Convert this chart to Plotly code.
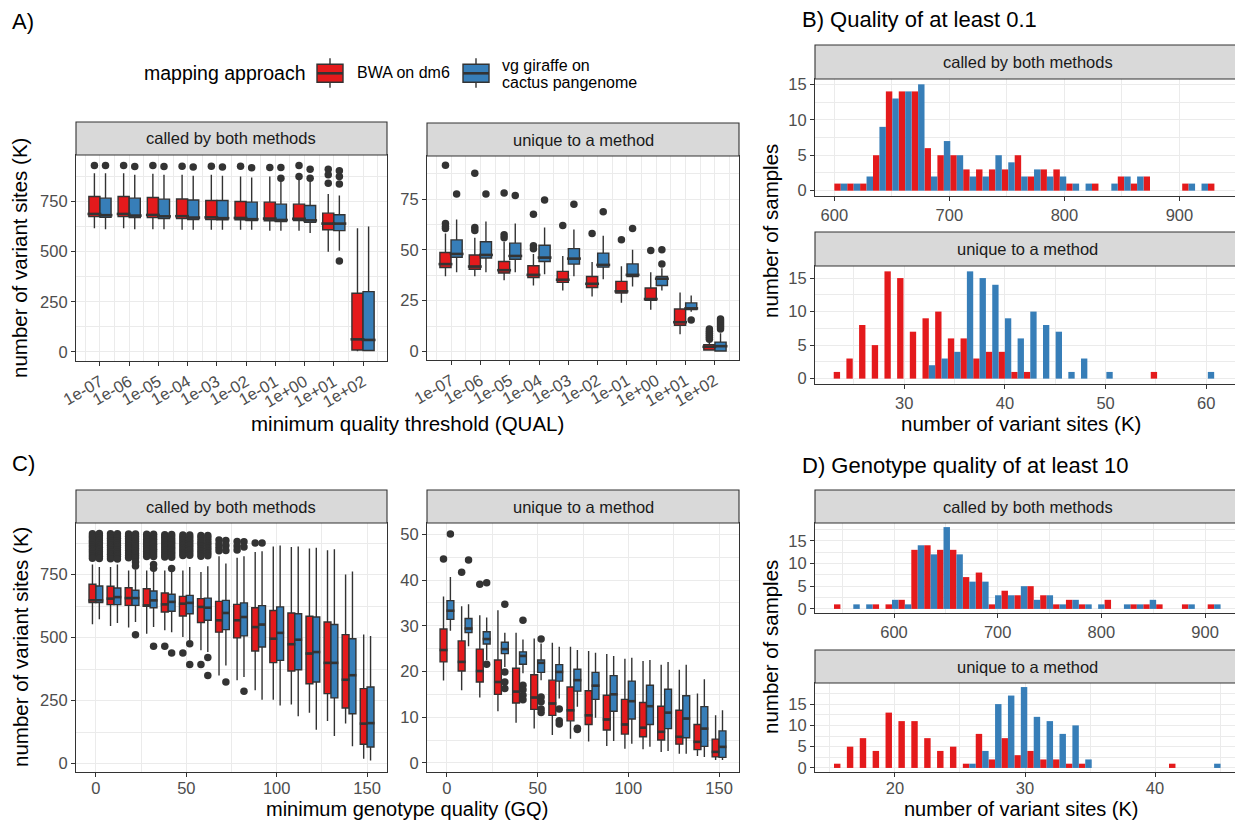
import numpy as np
import plotly.graph_objects as go

W, H = 1235, 822
RED, BLUE, DARK = "#E41A1C", "#377EB8", "#333333"
FONT = "Liberation Sans, Arial, Helvetica, sans-serif"
BWA_NAME = "BWA on dm6"
VG_NAME = "vg giraffe on cactus pangenome"

# ------------------------------------------------------------------ data
qual_labels = ["1e-07", "1e-06", "1e-05", "1e-04", "1e-03",
               "1e-02", "1e-01", "1e+00", "1e+01", "1e+02"]
gq_values = [0, 10, 20, 30, 40, 50, 60, 70, 80, 90, 100, 110, 120, 130, 140, 150]

# A) variant sites (K) called by both methods, by minimum QUAL
qa_both_bwa_lo = [617, 617, 612, 609, 609, 609, 604, 604, 500, 4]
qa_both_bwa_q1 = [675, 675, 670, 665, 660, 659, 654, 655, 609, 10]
qa_both_bwa_md = [688, 688, 683, 677, 671, 668, 665, 664, 640, 63]
qa_both_bwa_q3 = [775, 775, 770, 763, 755, 750, 747, 737, 692, 293]
qa_both_bwa_hi = [891, 891, 888, 883, 883, 875, 875, 866, 787, 617]
qa_both_bwa_out = [[930], [930], [930], [926], [926], [926], [920], [930, 875],
                   [911, 883, 841], []]

qa_both_vg_lo = [612, 612, 612, 609, 609, 609, 604, 593, 505, 3]
qa_both_vg_q1 = [672, 670, 665, 660, 659, 655, 650, 647, 605, 7]
qa_both_vg_md = [682, 680, 676, 670, 667, 662, 658, 656, 640, 60]
qa_both_vg_q3 = [767, 767, 762, 758, 755, 747, 737, 730, 684, 301]
qa_both_vg_hi = [891, 883, 883, 878, 878, 870, 866, 875, 780, 625]
qa_both_vg_out = [[930], [925], [925], [922], [922], [919], [920, 866], [911, 866],
                  [903, 875, 837, 454], []]

# A) variant sites (K) unique to a method, by minimum QUAL
qa_uniq_bwa_lo = [37, 37, 35, 32.5, 30, 27, 24, 20.5, 8.5, 0.3]
qa_uniq_bwa_q1 = [41.3, 40.5, 38.6, 36.4, 34, 31.5, 28.8, 25.2, 12.9, 0.7]
qa_uniq_bwa_md = [43, 41.8, 40, 37.7, 35.3, 33.3, 29.6, 25.8, 14.4, 2.3]
qa_uniq_bwa_q3 = [48.7, 47.5, 44.3, 42.2, 39.4, 36.9, 34.5, 31.2, 20.9, 3.3]
qa_uniq_bwa_hi = [58, 56, 54, 48, 47, 44, 42, 39, 29, 5]
qa_uniq_bwa_out = [[91.7, 63, 61.5, 60.5], [87.7, 61, 59.5], [78, 57.5, 56],
                   [67.5, 52, 50.5], [62], [58], [55], [49.7], [],
                   [6.0, 7.0, 8.0, 9.0, 10.0, 11.0]]

qa_uniq_vg_lo = [39, 39, 39, 38, 37, 35.5, 32, 30, 19.5, 0.1]
qa_uniq_vg_q1 = [46.4, 46, 45.4, 44.3, 43, 41.5, 36.9, 32.5, 20.6, 0.2]
qa_uniq_vg_md = [48, 47.5, 47, 46.2, 45.7, 42.6, 37.7, 35.8, 21.2, 2.6]
qa_uniq_vg_q3 = [54.9, 54, 53.3, 52.3, 50.6, 48.4, 43.1, 36.9, 23.9, 4.6]
qa_uniq_vg_hi = [65, 64, 63, 61, 60, 57, 50, 41, 27.5, 9]
qa_uniq_vg_out = [[77.5], [77.5], [76.7], [74.5], [72.5], [68.8], [60.5], [50, 43],
                  [15.5], [11, 12, 13, 14, 15, 16]]

# B) histogram, QUAL >= 0.1 (30 bins)
hb_both_start, hb_both_bw = 600.0, 11.2
hb_both_bwa = [1, 1, 1, 5, 14, 14, 14, 6, 5, 5, 3, 3, 3, 3, 5,
               2, 3, 3, 1, 0, 1, 0, 2, 1, 2, 0, 0, 1, 0, 1]
hb_both_vg = [1, 1, 2, 9, 13, 14, 15, 2, 7, 5, 2, 2, 5, 4, 2,
              3, 2, 2, 1, 1, 0, 1, 2, 2, 0, 0, 0, 1, 1, 0]
hb_uniq_start, hb_uniq_bw = 22.99, 1.26
hb_uniq_bwa = [1, 3, 8, 5, 16, 15, 7, 9, 10, 6, 6, 3, 4, 4, 1,
               1, 0, 0, 0, 0, 0, 0, 0, 0, 0, 1, 0, 0, 0, 0]
hb_uniq_vg = [0, 0, 0, 0, 0, 0, 0, 2, 3, 4, 16, 15, 14, 9, 6,
              10, 8, 7, 1, 3, 0, 1, 0, 0, 0, 0, 0, 0, 0, 1]

# C) variant sites (K) called by both methods, by minimum GQ
gc_both_bwa_lo = [553, 546, 540, 516, 529, 503, 450, 350, 331, 291, 254, 235, 202, 169, 159, 20]
gc_both_bwa_q1 = [639, 631, 628, 624, 602, 586, 560, 522, 499, 447, 401, 368, 317, 278, 221, 77]
gc_both_bwa_md = [648, 655, 657, 628, 632, 635, 622, 569, 569, 542, 496, 474, 437, 400, 333, 159]
gc_both_bwa_q3 = [712, 704, 698, 694, 677, 664, 655, 644, 632, 619, 608, 598, 585, 562, 512, 298]
gc_both_bwa_hi = [790, 780, 767, 767, 767, 767, 761, 823, 817, 840, 862, 860, 854, 847, 751, 513]
gc_both_bwa_out = [
    [912, 903, 895, 886, 878, 868, 860, 851, 842, 833, 824, 815],
    [912, 903, 894, 885, 876, 867, 858, 849, 840, 831, 822, 813],
    [911, 902, 893, 884, 874, 865, 856, 846, 836, 826, 817],
    [910, 900, 890, 880, 871, 862, 852, 842, 832, 822],
    [908, 898, 888, 878, 868, 858, 848, 838, 828, 820, 466],
    [907, 896, 886, 876, 866, 856, 846, 836, 826, 439],
    [905, 895, 884, 874, 864, 853, 843, 833, 823, 394],
    [888, 872, 858, 845],
    [882, 864, 848],
    [876],
    [], [], [], [], [], []]

gc_both_vg_lo = [573, 558, 562, 542, 522, 489, 443, 390, 344, 254, 231, 188, 135, 110, 69, 13]
gc_both_vg_q1 = [639, 631, 628, 619, 605, 595, 569, 532, 507, 463, 410, 373, 324, 261, 198, 66]
gc_both_vg_md = [648, 661, 657, 648, 642, 638, 619, 598, 582, 552, 519, 492, 443, 400, 351, 161]
gc_both_vg_q3 = [705, 697, 688, 685, 672, 668, 657, 648, 638, 627, 622, 595, 582, 552, 496, 304]
gc_both_vg_hi = [780, 790, 770, 765, 767, 780, 783, 794, 823, 843, 866, 862, 857, 851, 763, 507]
gc_both_vg_out = [
    [913, 904, 895, 886, 877, 868, 859, 850, 841, 832, 823, 814],
    [912, 903, 894, 885, 876, 867, 858, 849, 840, 831, 822, 812],
    [911, 901, 892, 883, 873, 864, 854, 845, 835, 826, 816, 800, 784, 512],
    [910, 900, 891, 881, 871, 861, 851, 842, 832, 822, 790, 775, 466],
    [909, 899, 889, 879, 869, 859, 849, 839, 829, 819, 774, 439],
    [907, 897, 887, 877, 867, 857, 847, 837, 827, 476, 394],
    [905, 895, 885, 875, 865, 855, 845, 835, 825, 421, 350],
    [886, 866, 846, 324],
    [881, 860, 287],
    [876],
    [], [], [], [], [], []]

# C) variant sites (K) unique to a method, by minimum GQ
gc_uniq_bwa_lo = [18, 15.9, 14.3, 11.3, 8.8, 7.5, 6.1, 5.3, 4.7, 3.7, 3.1, 3.0, 2.4, 2.0, 1.5, 0.6]
gc_uniq_bwa_q1 = [22.1, 20.1, 17.7, 15.0, 13.1, 11.7, 10.4, 9.2, 8.4, 7.2, 6.3, 5.7, 5.0, 4.1, 2.9, 1.3]
gc_uniq_bwa_md = [24.7, 22.1, 20.1, 17.7, 15.6, 14.3, 13.0, 11.5, 10.4, 9.5, 8.4, 7.7, 6.8, 5.7, 4.6, 2.4]
gc_uniq_bwa_q3 = [29.3, 26.7, 24.9, 22.5, 20.7, 19.3, 18.1, 16.6, 15.8, 14.8, 13.9, 13.2, 12.4, 11.5, 8.4, 5.2]
gc_uniq_bwa_hi = [36.4, 34.3, 32.3, 33.4, 28.5, 27.2, 26.3, 25.4, 24.5, 23.8, 22.8, 22.3, 21.5, 20.4, 15.2, 10.4]
gc_uniq_bwa_out = [[44.6], [41.7], [39.1], [], [], [], [], [], [], [], [], [], [], [], [], []]

gc_uniq_vg_lo = [28.9, 25.5, 22.5, 21.0, 19.6, 18.1, 14.1, 12.3, 9.9, 4.8, 4.2, 3.5, 2.6, 2.0, 1.3, 0.6]
gc_uniq_vg_q1 = [31.4, 28.5, 26.0, 23.9, 21.6, 19.8, 17.9, 15.7, 13.9, 11.3, 9.6, 8.4, 7.5, 5.5, 3.6, 1.2]
gc_uniq_vg_md = [33.3, 29.4, 27.1, 24.9, 23.4, 21.9, 19.9, 18.1, 16.9, 15.0, 13.5, 12.4, 11.0, 9.7, 7.5, 3.5]
gc_uniq_vg_q3 = [35.5, 31.6, 28.7, 26.4, 24.3, 22.5, 21.5, 20.5, 19.8, 19.1, 17.9, 17.0, 16.1, 14.7, 12.3, 7.0]
gc_uniq_vg_hi = [40.7, 34.7, 31.8, 28.5, 27.0, 26.1, 25.4, 24.7, 24.1, 23.4, 23.0, 22.5, 22.1, 21.5, 18.3, 11.5]
gc_uniq_vg_out = [[50.1], [44.4], [39.4, 21.6], [34.7, 19.9, 17.7, 16.3],
                  [31.2, 17.0, 16.0, 14.8, 13.8], [27.1, 14.4, 13.4, 11.8, 11.0],
                  [11.8, 9.2, 8.5], [7.6, 7.3], [], [], [], [], [], [], [], []]

# D) histogram, GQ >= 10 (30 bins)
hd_both_start, hd_both_bw = 542.1, 12.43
hd_both_bwa = [1, 0, 0, 1, 1, 2, 13, 14, 13, 13, 7, 8, 1, 4, 3,
               5, 3, 1, 2, 1, 0, 2, 0, 1, 1, 1, 0, 1, 0, 1]
hd_both_vg = [0, 1, 1, 0, 2, 1, 14, 12, 18, 12, 6, 6, 3, 3, 5,
              2, 3, 1, 2, 1, 1, 0, 1, 1, 2, 0, 0, 1, 0, 1]
hd_uniq_start, hd_uniq_bw = 15.31, 0.991
hd_uniq_bwa = [1, 5, 7, 4, 13, 11, 11, 7, 4, 5, 1, 8, 2, 7, 3,
               4, 2, 2, 1, 1, 0, 0, 0, 0, 0, 0, 1, 0, 0, 0]
hd_uniq_vg = [0, 0, 0, 0, 0, 0, 0, 0, 0, 0, 1, 4, 15, 17, 19,
              12, 11, 8, 10, 2, 0, 0, 0, 0, 0, 0, 0, 0, 0, 1]

# ------------------------------------------------------------------ geometry (pixels)
BOXGAP = 0.24
# plot-area rectangles: (left, right, top, bottom) and axis ranges
PANELS = {
    "":  dict(box=(76, 387, 155, 361), xr=[-0.82, 9.82], yr=[-45, 982]),
    "2": dict(box=(427, 739, 156, 360), xr=[-0.82, 9.82], yr=[-4.2, 96.2]),
    "3": dict(box=(815, 1235, 79, 196), xr=[583.2, 948.3], yr=[-0.75, 15.75]),
    "4": dict(box=(815, 1235, 266, 384), xr=[21.13, 62.86], yr=[-0.8, 16.8]),
    "5": dict(box=(76, 387, 523, 772), xr=[-11, 161], yr=[-33, 955]),
    "6": dict(box=(427, 739, 523, 772), xr=[-11, 161], yr=[-2.0, 52.5]),
    "7": dict(box=(815, 1235, 523, 613), xr=[523.8, 928.9], yr=[-0.9, 18.9]),
    "8": dict(box=(815, 1235, 683, 772), xr=[13.85, 46.15], yr=[-0.95, 19.95]),
}
BOTTOM_ROW = ("5", "6", "8")


def px(xp):
    return xp / W


def py(yp):
    return 1 - yp / H


def unit_px(ax):
    p = PANELS[ax]
    return (p["box"][1] - p["box"][0]) / (p["xr"][1] - p["xr"][0])


fig = go.Figure()


def add_boxes(ax, positions, spacing, stats, outliers, color, name, group, side):
    lo, q1, md, q3, hi = stats
    fig.add_trace(go.Box(
        x=positions, q1=q1, median=md, q3=q3, lowerfence=lo, upperfence=hi,
        xaxis="x" + ax, yaxis="y" + ax, name=name, legendgroup=name,
        showlegend=False, fillcolor=color, line=dict(color=DARK, width=1.4),
        whiskerwidth=0, boxpoints=False, offsetgroup=name, alignmentgroup=group,
        hoverinfo="skip"))
    shift = side * spacing * (1 - BOXGAP) / 4
    # thicker median bar, as in a ggplot boxplot
    box_w = spacing * (1 - BOXGAP) / 2 * unit_px(ax)
    fig.add_trace(go.Scatter(
        x=[p + shift for p in positions], y=md, mode="markers",
        xaxis="x" + ax, yaxis="y" + ax,
        marker=dict(symbol="line-ew", size=box_w - 1.2, line=dict(color=DARK, width=2.6)),
        showlegend=False, hoverinfo="skip"))
    ox, oy = [], []
    for p, pts in zip(positions, outliers):
        ox += [p + shift] * len(pts)
        oy += list(pts)
    fig.add_trace(go.Scatter(
        x=ox, y=oy, mode="markers", xaxis="x" + ax, yaxis="y" + ax,
        marker=dict(color=DARK, size=7.5, line=dict(width=0)),
        showlegend=False, hoverinfo="skip"))


def add_hist(ax, start, bw, counts, color, side):
    centers = start + bw * (np.arange(len(counts)) + 0.5)
    fig.add_trace(go.Bar(
        x=centers, y=counts, width=bw / 2, offset=-bw / 2 if side < 0 else 0,
        marker=dict(color=color, line=dict(width=0)),
        xaxis="x" + ax, yaxis="y" + ax, showlegend=False, hoverinfo="skip"))


qpos = list(range(len(qual_labels)))

# A) QUAL boxplots
add_boxes("", qpos, 1, (qa_both_bwa_lo, qa_both_bwa_q1, qa_both_bwa_md, qa_both_bwa_q3, qa_both_bwa_hi),
          qa_both_bwa_out, RED, BWA_NAME, "a1", -1)
add_boxes("", qpos, 1, (qa_both_vg_lo, qa_both_vg_q1, qa_both_vg_md, qa_both_vg_q3, qa_both_vg_hi),
          qa_both_vg_out, BLUE, VG_NAME, "a1", 1)
add_boxes("2", qpos, 1, (qa_uniq_bwa_lo, qa_uniq_bwa_q1, qa_uniq_bwa_md, qa_uniq_bwa_q3, qa_uniq_bwa_hi),
          qa_uniq_bwa_out, RED, BWA_NAME, "a2", -1)
add_boxes("2", qpos, 1, (qa_uniq_vg_lo, qa_uniq_vg_q1, qa_uniq_vg_md, qa_uniq_vg_q3, qa_uniq_vg_hi),
          qa_uniq_vg_out, BLUE, VG_NAME, "a2", 1)

# B) QUAL histograms
add_hist("3", hb_both_start, hb_both_bw, hb_both_bwa, RED, -1)
add_hist("3", hb_both_start, hb_both_bw, hb_both_vg, BLUE, 1)
add_hist("4", hb_uniq_start, hb_uniq_bw, hb_uniq_bwa, RED, -1)
add_hist("4", hb_uniq_start, hb_uniq_bw, hb_uniq_vg, BLUE, 1)

# C) GQ boxplots
add_boxes("5", gq_values, 10, (gc_both_bwa_lo, gc_both_bwa_q1, gc_both_bwa_md, gc_both_bwa_q3, gc_both_bwa_hi),
          gc_both_bwa_out, RED, BWA_NAME, "c1", -1)
add_boxes("5", gq_values, 10, (gc_both_vg_lo, gc_both_vg_q1, gc_both_vg_md, gc_both_vg_q3, gc_both_vg_hi),
          gc_both_vg_out, BLUE, VG_NAME, "c1", 1)
add_boxes("6", gq_values, 10, (gc_uniq_bwa_lo, gc_uniq_bwa_q1, gc_uniq_bwa_md, gc_uniq_bwa_q3, gc_uniq_bwa_hi),
          gc_uniq_bwa_out, RED, BWA_NAME, "c2", -1)
add_boxes("6", gq_values, 10, (gc_uniq_vg_lo, gc_uniq_vg_q1, gc_uniq_vg_md, gc_uniq_vg_q3, gc_uniq_vg_hi),
          gc_uniq_vg_out, BLUE, VG_NAME, "c2", 1)

# D) GQ histograms
add_hist("7", hd_both_start, hd_both_bw, hd_both_bwa, RED, -1)
add_hist("7", hd_both_start, hd_both_bw, hd_both_vg, BLUE, 1)
add_hist("8", hd_uniq_start, hd_uniq_bw, hd_uniq_bwa, RED, -1)
add_hist("8", hd_uniq_start, hd_uniq_bw, hd_uniq_vg, BLUE, 1)

# ------------------------------------------------------------------ axes
GRID = "#EBEBEB"
TICK_MAJOR = {"": 250, "2": 25, "3": 100, "4": 10, "5": 50, "6": 50, "7": 100, "8": 10}
Y_MAJOR = {"": 250, "2": 25, "3": 5, "4": 5, "5": 250, "6": 10, "7": 5, "8": 5}


def axis(domain, rng, anchor, dtick=None, **kw):
    d = dict(domain=domain, range=rng, anchor=anchor, showline=True, linecolor=DARK,
             linewidth=1.1, mirror=True, ticks="outside", ticklen=4, tickcolor=DARK,
             tickwidth=1.1, tickfont=dict(size=16.5, color="#4D4D4D", family=FONT),
             showgrid=True, gridcolor=GRID, gridwidth=1.1, zeroline=False,
             automargin=False, fixedrange=True)
    if dtick is not None:
        d.update(tick0=0, dtick=dtick,
                 minor=dict(showgrid=True, gridcolor=GRID, gridwidth=0.55, ticks="",
                            tick0=0, dtick=dtick / 2))
    d.update(kw)
    return d


layout_axes = {}
for ax, p in PANELS.items():
    l, r, t, b = p["box"]
    xdom = [px(l), min(px(r), 1.0)]
    ydom = [py(b), py(t)]
    if ax in ("", "2"):
        xa = axis(xdom, p["xr"], "y" + ax, tickmode="array", tickvals=qpos,
                  ticktext=qual_labels, tickangle=-30,
                  minor=dict(showgrid=True, gridcolor=GRID, gridwidth=0.55, ticks="",
                             tickmode="linear", tick0=0.5, dtick=1))
    else:
        xa = axis(xdom, p["xr"], "y" + ax, TICK_MAJOR[ax])
    if ax in BOTTOM_ROW:
        # bottom-row tick labels sit a little closer to the panel
        xa["ticklabelstandoff"] = -3
    ya = axis(ydom, p["yr"], "x" + ax, Y_MAJOR[ax])
    layout_axes["xaxis" + ax] = xa
    layout_axes["yaxis" + ax] = ya

# ------------------------------------------------------------------ strips, legend & text
strips = [
    (76, 387, 122, 155, "called by both methods"),
    (427, 739, 123, 156, "unique to a method"),
    (815, 1245, 45, 79, "called by both methods"),
    (815, 1245, 232, 266, "unique to a method"),
    (76, 387, 490, 523, "called by both methods"),
    (427, 739, 490, 523, "unique to a method"),
    (815, 1245, 490, 523, "called by both methods"),
    (815, 1245, 650, 683, "unique to a method"),
]
shapes, annotations = [], []


def text(t, x, y, size, anchor="center", angle=0, color="black"):
    annotations.append(dict(text=t, x=px(x), y=py(y), xref="paper", yref="paper",
                            showarrow=False, xanchor=anchor, yanchor="middle",
                            textangle=angle, font=dict(size=size, color=color, family=FONT)))


for x0, x1, y0, y1, label in strips:
    shapes.append(dict(type="rect", xref="paper", yref="paper", x0=px(x0), x1=px(x1),
                       y0=py(y1), y1=py(y0), fillcolor="#D9D9D9",
                       line=dict(color=DARK, width=1.1), layer="above"))
    cx = (x0 + x1) / 2 if x1 < 1240 else (815 + 1240) / 2
    text(label, cx, (y0 + y1) / 2, 16.5, color="#1A1A1A")


def legend_key(x0, x1, color):
    xc = (x0 + x1) / 2
    line = dict(color=DARK, width=1.4)
    shapes.append(dict(type="line", xref="paper", yref="paper", x0=px(xc), x1=px(xc),
                       y0=py(58.3), y1=py(87.7), line=line))
    shapes.append(dict(type="rect", xref="paper", yref="paper", x0=px(x0), x1=px(x1),
                       y0=py(82.3), y1=py(64.3), fillcolor=color, line=line))
    shapes.append(dict(type="line", xref="paper", yref="paper", x0=px(x0), x1=px(x1),
                       y0=py(73.3), y1=py(73.3), line=dict(color=DARK, width=2.6)))


text("mapping approach", 142, 73, 19.5, "left")
legend_key(317, 343, RED)
text("BWA on dm6", 355, 73, 16, "left")
legend_key(463, 489, BLUE)
text("vg giraffe on", 500, 65.5, 16, "left")
text("cactus pangenome", 500, 82.5, 16, "left")

text("A)", 10, 21, 22, "left")
text("B) Quality of at least 0.1", 800, 20, 22, "left")
text("C)", 10, 463, 22, "left")
text("D) Genotype quality of at least 10", 800, 465, 22, "left")
text("number of variant sites (K)", 20, 258, 20.5, angle=-90)
text("number of variant sites (K)", 20, 647, 20.5, angle=-90)
text("minimum quality threshold (QUAL)", 407, 423, 20.5)
text("minimum genotype quality (GQ)", 407, 808.5, 20)
text("number of samples", 770, 231, 20.5, angle=-90)
text("number of samples", 770, 647, 20.5, angle=-90)
text("number of variant sites (K)", 1021, 423, 20.5)
text("number of variant sites (K)", 1021, 808.5, 20)

fig.update_layout(
    width=W, height=H, margin=dict(l=0, r=0, t=0, b=0, autoexpand=False),
    paper_bgcolor="white", plot_bgcolor="white",
    font=dict(family=FONT, color="black"),
    boxmode="group", boxgap=BOXGAP, boxgroupgap=0.0, barmode="overlay",
    showlegend=False, shapes=shapes, annotations=annotations, hovermode=False,
    **layout_axes,
)

fig.write_html("out.html")
